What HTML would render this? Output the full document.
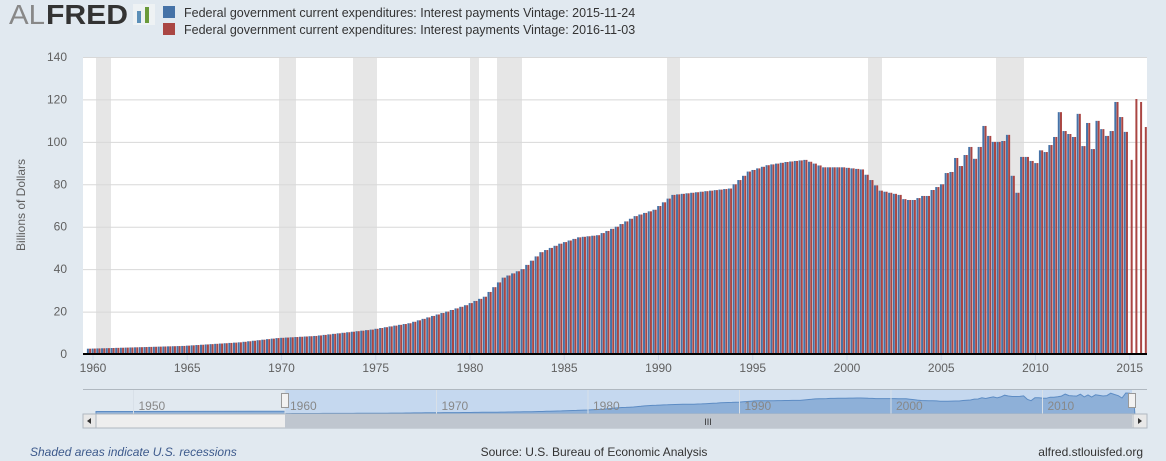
<!DOCTYPE html>
<html><head><meta charset="utf-8"><style>
body{margin:0;background:#e1e9f0;width:1166px;height:461px;overflow:hidden;font-family:"Liberation Sans",sans-serif}
svg{display:block}
</style></head><body>
<svg id="s" width="1166" height="461" xmlns="http://www.w3.org/2000/svg" font-family="Liberation Sans, sans-serif">
<rect width="1166" height="461" fill="#e1e9f0"/>
<text x="9" y="24" font-size="28" fill="#888" textLength="36" lengthAdjust="spacingAndGlyphs">AL</text>
<text x="46" y="24" font-size="28" font-weight="bold" fill="#333" textLength="82" lengthAdjust="spacingAndGlyphs">FRED</text>
<rect x="133" y="4" width="22" height="21" fill="#eef2f4"/>
<rect x="137" y="11" width="4" height="12" fill="#5b8fb8"/>
<rect x="145" y="7" width="4" height="16" fill="#6a9a3a"/>
<rect x="163" y="6" width="12" height="12" fill="#4572a7"/>
<rect x="163" y="23" width="12" height="12" fill="#aa4643"/>
<text x="184" y="17" font-size="12.5" fill="#333">Federal government current expenditures: Interest payments Vintage: 2015-11-24</text>
<text x="184" y="34" font-size="12.5" fill="#333">Federal government current expenditures: Interest payments Vintage: 2016-11-03</text>
<rect x="83" y="57" width="1064" height="297" fill="#fff"/>
<g id="rec" fill="#e6e6e6"></g>
<g id="grid" stroke="#d8d8d8" stroke-width="1"></g>
<g id="bars"></g>
<line x1="83" y1="354" x2="1147" y2="354" stroke="#000" stroke-width="2"/>
<g id="ylab" font-size="12" fill="#606060" text-anchor="end"></g>
<text transform="translate(25,205) rotate(-90)" font-size="12" fill="#606060" text-anchor="middle">Billions of Dollars</text>
<g id="xlab" font-size="12" fill="#606060" text-anchor="middle"></g>
<line x1="83" y1="389.5" x2="1147" y2="389.5" stroke="#b0b8c0"/>
<rect x="285" y="390" width="847" height="24" fill="#c5d8ef"/>
<path id="nav" fill="#8eb0d8" stroke="#5d8cc4" stroke-width="1"/>
<g id="navlab" font-size="12" fill="#888"></g>
<rect x="83" y="414" width="1064" height="14" fill="#eeeeee" stroke="#b0b8c0"/>
<rect x="285" y="414" width="847" height="14" fill="#bfc6cf"/>
<rect x="83" y="414" width="13" height="14" fill="#e8e8e8" stroke="#b0b8c0"/>
<rect x="1133" y="414" width="14" height="14" fill="#e8e8e8" stroke="#b0b8c0"/>
<path d="M91 418 L87 421 L91 424Z" fill="#333"/><path d="M1138 418 L1142 421 L1138 424Z" fill="#333"/>
<text x="708" y="425" font-size="9" fill="#333" text-anchor="middle">III</text>
<rect x="281.5" y="393.5" width="7" height="14" fill="#f2f2f2" stroke="#999"/>
<rect x="1128.5" y="393.5" width="7" height="14" fill="#f2f2f2" stroke="#999"/>
<text x="30" y="456" font-size="12" font-style="italic" fill="#3d5a8c">Shaded areas indicate U.S. recessions</text>
<text x="594" y="456" font-size="12" fill="#333" text-anchor="middle">Source: U.S. Bureau of Economic Analysis</text>
<text x="1143" y="456" font-size="12" fill="#333" text-anchor="end">alfred.stlouisfed.org</text>
</svg>
<script>
var NS="http://www.w3.org/2000/svg";
function el(p,t,a,txt){var e=document.createElementNS(NS,t);for(var k in a)e.setAttribute(k,a[k]);if(txt!=null)e.textContent=txt;document.getElementById(p).appendChild(e);return e;}
[[96,111],[279,296],[353,377],[470,479],[497,522],[667,680],[868,882],[996,1024]].forEach(function(r){el("rec","rect",{x:r[0],y:57,width:r[1]-r[0],height:297});});
function Y(v){return 354-v*297/140;}
for(var v=0;v<=140;v+=20){if(v>0)el("grid","line",{x1:83,x2:1147,y1:Y(v)+.5,y2:Y(v)+.5});el("ylab","text",{x:67,y:Y(v)+4},v);}
for(var yr=1960;yr<=2015;yr+=5){var x=93+(yr-1960)*18.85;el("xlab","text",{x:x,y:372},yr);el("xlab","line",{x1:x,x2:x,y1:355,y2:360,stroke:"#ccd6eb"});}
var kp=[[1960,2.5],[1965,3.8],[1968,5.5],[1970,7.5],[1972,8.5],[1975,11.5],[1977,14.5],[1979,20],[1980,23],[1981,27],[1982,36],[1983,40],[1984,48],[1985,52],[1986,55],[1987,56],[1988,60],[1989,65],[1990,68],[1991,75],[1992,76],[1993,77],[1994,78],[1995,86],[1996,89],[1997,90.5],[1998,91.5],[1999,88],[2000,88],[2001,87],[2002,77],[2003,75]];
function interp(t){for(var i=0;i<kp.length-1;i++){if(t<=kp[i+1][0]){var a=kp[i],b=kp[i+1];return a[1]+(b[1]-a[1])*(t-a[0])/(b[0]-a[0]);}}return 75;}
var late=[75,73,72.6,72.6,73.5,74.5,74.5,77.3,78.7,80,85.3,85.8,92.4,88.6,93.8,97.6,92,97.6,107.5,102.8,100,100,100.4,103.3,84,76,92.9,92.9,91,90,96,95.2,98.5,102.3,114,105.1,103.7,102.3,113.2,98,108.9,96.6,109.9,106,102.8,105.1,118.8,111.7,104.7,91.5,120.2,118.8,107];
var start=225-late.length;
var vals=[];
for(var i=0;i<=224;i++){var v=i>=start?late[i-start]:interp(1960+i/4);vals.push(v);
 var c=89+i*4.713;
 if(i<=220)el("bars","rect",{x:c-2.1,y:Y(v),width:2,height:354-Y(v),fill:"#4572a7"});
 el("bars","rect",{x:c+0.1,y:Y(v),width:2,height:354-Y(v),fill:"#aa4643"});}
function NX(t){return 285+(t-1960)*15.15;}
function NY(v){return 414-v*21/120;}
var d="M96 414 L96 411.5 L285 411.2";
for(var i=0;i<=224;i++){d+=" L"+NX(1960+i/4).toFixed(1)+" "+NY(vals[i]).toFixed(1);}
d+=" L"+NX(2016.1).toFixed(1)+" 414Z";
document.getElementById("nav").setAttribute("d",d);
for(var yr=1950;yr<=2010;yr+=10){var x=NX(yr);el("navlab","line",{x1:x,x2:x,y1:390,y2:414,stroke:"#d8e0e8"});el("navlab","text",{x:x+5,y:410},yr);}
</script>
</body></html>
